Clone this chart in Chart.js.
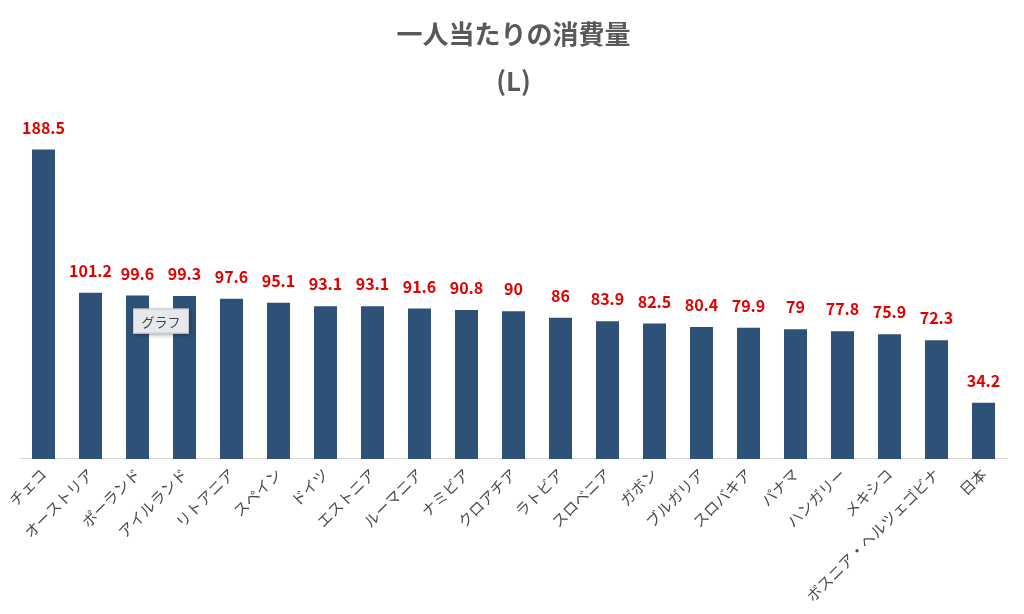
<!DOCTYPE html>
<html>
<head>
<meta charset="utf-8">
<script src="https://cdn.jsdelivr.net/npm/chart.js@4"></script>
<style>
  html, body { margin: 0; padding: 0; background: #fff; }
  #wrap { width: 1024px; height: 614px; }
</style>
</head>
<body>
<div id="wrap"><canvas id="consumeChart" width="1024" height="614"></canvas></div>
<script>
// 国名
const countries = ['チェコ', 'オーストリア', 'ポーランド', 'アイルランド', 'リトアニア', 'スペイン', 'ドイツ',
  'エストニア', 'ルーマニア', 'ナミビア', 'クロアチア', 'ラトビア', 'スロベニア', 'ガボン', 'ブルガリア',
  'スロバキア', 'パナマ', 'ハンガリー', 'メキシコ', 'ボスニア・ヘルツェゴビナ', '日本'];
// 一人当たりの消費量 (L)
const consumption = [188.5, 101.2, 99.6, 99.3, 97.6, 95.1, 93.1, 93.1, 91.6, 90.8, 90, 86, 83.9, 82.5, 80.4,
  79.9, 79, 77.8, 75.9, 72.3, 34.2];
const titleLines = ['一人当たりの消費量', '(L)'];

const fontFamily = '"Noto Sans CJK JP", "Noto Sans", sans-serif';

// 棒の上に値を描く
const valueLabels = {
  id: 'valueLabels',
  afterDatasetsDraw(chart) {
    const ctx = chart.ctx;
    const meta = chart.getDatasetMeta(0);
    ctx.save();
    ctx.font = 'bold 16px ' + fontFamily;
    ctx.fillStyle = '#E00000';
    ctx.textAlign = 'center';
    ctx.textBaseline = 'middle';
    meta.data.forEach((bar, i) => {
      ctx.fillText(String(consumption[i]), bar.x, bar.y - 22);
    });
    ctx.restore();
  }
};

// Excel のツールチップ「グラフ」
const hoverTip = {
  id: 'hoverTip',
  afterDraw(chart) {
    const ctx = chart.ctx;
    const xs = chart.scales.x, ys = chart.scales.y;
    const cx = (xs.getPixelForValue(2) + xs.getPixelForValue(3)) / 2;
    const cy = ys.getPixelForValue(84);
    const w = 56, h = 25;
    ctx.save();
    ctx.shadowColor = 'rgba(0,0,0,0.35)';
    ctx.shadowBlur = 4;
    ctx.shadowOffsetX = 1;
    ctx.shadowOffsetY = 1;
    ctx.fillStyle = '#e6e8ea';
    ctx.fillRect(cx - w / 2, cy - h / 2, w, h);
    ctx.shadowColor = 'transparent';
    ctx.strokeStyle = '#c8c8c8';
    ctx.lineWidth = 1;
    ctx.strokeRect(cx - w / 2 + 0.5, cy - h / 2 + 0.5, w - 1, h - 1);
    ctx.font = '13px ' + fontFamily;
    ctx.fillStyle = '#444';
    ctx.textAlign = 'center';
    ctx.textBaseline = 'middle';
    ctx.fillText('グラフ', cx, cy + 1);
    ctx.restore();
  }
};

let consumeChart = new Chart(document.getElementById('consumeChart'), {
  type: 'bar',
  data: {
    labels: countries,
    datasets: [{
      label: '消費量',
      data: consumption,
      backgroundColor: '#2E5177',
      borderWidth: 0,
      barPercentage: 1.0,
      categoryPercentage: 0.49
    }]
  },
  options: {
    responsive: false,
    maintainAspectRatio: false,
    animation: { duration: 0 },
    layout: {
      padding: { top: 0, left: 20, right: 17, bottom: 3 }
    },
    plugins: {
      legend: { display: false },
      tooltip: { enabled: false },
      title: {
        display: true,
        text: titleLines,
        color: '#595959',
        font: { family: fontFamily, size: 26, weight: 'bold', lineHeight: 1.8 },
        padding: { top: 11, bottom: 26 }
      }
    },
    scales: {
      y: {
        display: false,
        min: 0,
        max: 200
      },
      x: {
        grid: { display: false, drawTicks: false },
        border: { display: true, color: '#d9d9d9', width: 1 },
        ticks: {
          color: '#4a4a4a',
          font: { family: fontFamily, size: 15 },
          minRotation: 45,
          maxRotation: 45,
          autoSkip: false,
          padding: 6
        }
      }
    }
  },
  plugins: [valueLabels, hoverTip]
});
</script>
</body>
</html>
